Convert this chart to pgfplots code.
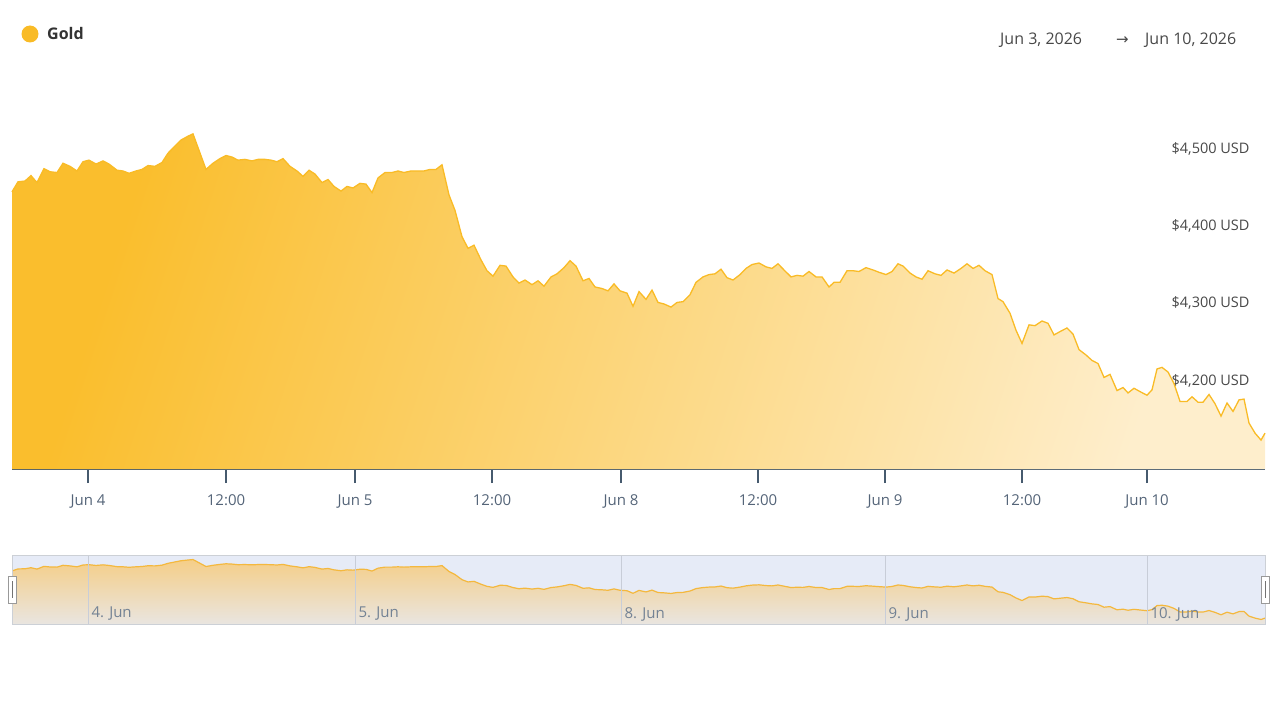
\documentclass[border=0pt]{standalone}
\usepackage{fontspec}
\setmainfont{Open Sans}
\newfontfamily\symfont{DejaVu Sans}
\usepackage{pgfplots}
\pgfplotsset{compat=1.18}
\usepackage{pgfplotstable}

\definecolor{goldline}{RGB}{249,187,38}
\definecolor{golddark}{RGB}{250,190,45}
\definecolor{goldlight}{RGB}{254,238,204}
\definecolor{axisslate}{RGB}{70,90,110}
\definecolor{ticktext}{RGB}{84,100,120}
\definecolor{labelgray}{RGB}{72,72,72}
\definecolor{navbg}{RGB}{230,235,247}
\definecolor{navborder}{RGB}{204,208,214}
\definecolor{navgrid}{RGB}{200,205,216}
\definecolor{navtext}{RGB}{115,130,148}
\definecolor{navtop}{RGB}{245,206,136}
\definecolor{navbot}{RGB}{233,229,224}
\definecolor{navline}{RGB}{244,184,62}

% x = horizontal position on the ordinal time axis (Jun 4 00:00 at 88), y = price in USD
\pgfplotstableread{
x y
12 4442
18 4455
25 4456
31 4463
37 4454
44 4472
50 4468
57 4467
63 4479
70 4475
77 4469
83 4481
89 4483
96 4478
103 4482
109 4478
117 4470
123 4469
129 4466
136 4469
142 4471
148 4476
155 4475
162 4480
168 4492
174 4500
181 4509
188 4514
193 4517
206 4471
213 4479
220 4485
226 4489
232 4487
238 4483
245 4484
252 4482
258 4484
265 4484
271 4483
277 4481
283 4485
290 4475
297 4469
303 4462
309 4470
315 4465
322 4454
328 4458
334 4449
341 4443
347 4449
353 4447
360 4453
366 4452
372 4441
378 4460
385 4467
392 4467
398 4469
404 4467
411 4469
418 4469
424 4469
430 4471
436 4471
442 4477
449 4438
455 4418
462 4384
468 4369
474 4373
481 4354
487 4340
493 4333
500 4347
506 4346
513 4332
519 4324
525 4328
532 4322
538 4327
544 4320
551 4332
557 4336
564 4344
570 4353
576 4346
583 4327
589 4330
595 4319
602 4317
608 4314
614 4323
620 4314
627 4311
633 4294
639 4313
646 4303
652 4315
658 4299
664 4297
671 4293
677 4299
683 4300
690 4309
696 4325
703 4332
709 4335
715 4336
721 4342
727 4331
733 4328
740 4335
746 4343
752 4348
759 4350
766 4345
772 4343
778 4349
784 4341
791 4332
797 4334
803 4333
809 4339
816 4332
822 4332
829 4319
834 4325
840 4325
847 4340
853 4340
859 4339
866 4344
873 4341
879 4338
886 4335
892 4339
898 4349
903 4346
910 4337
916 4332
922 4329
928 4340
935 4336
941 4334
947 4341
954 4337
961 4343
967 4349
973 4343
979 4347
985 4340
992 4335
998 4304
1003 4300
1010 4285
1016 4263
1022 4246
1029 4270
1035 4269
1042 4275
1048 4272
1054 4257
1061 4262
1067 4266
1073 4258
1079 4238
1086 4231
1092 4224
1098 4220
1104 4202
1110 4206
1117 4185
1123 4189
1128 4182
1134 4188
1141 4183
1147 4179
1152 4186
1157 4213
1162 4215
1168 4209
1174 4194
1180 4171
1187 4171
1192 4177
1198 4170
1203 4170
1209 4180
1215 4168
1221 4152
1227 4169
1233 4158
1239 4173
1244 4174
1249 4143
1255 4130
1261 4121
1265 4130
}\gold

\begin{document}
\begin{tikzpicture}[x=1bp,y=-1bp]
\path[use as bounding box] (0,0) rectangle (1280,720);

% main chart
\begin{axis}[
    at={(12bp,-469bp)}, anchor=south west,
    scale only axis, width=1253bp, height=409bp,
    xmin=12, xmax=1265, ymin=4083.6, ymax=4612.5,
    axis x line*=bottom, axis y line*=right,
    y axis line style={draw=none},
    x axis line style={draw=axisslate, line width=1.8bp},
    tick align=outside,
    major tick length=14bp,
    xtick={88,226,355,492,621,758,885,1022,1147},
    xticklabels={Jun 4,12:00,Jun 5,12:00,Jun 8,12:00,Jun 9,12:00,Jun 10},
    xtick style={draw=axisslate, line width=1.3bp},
    xticklabel style={yshift=-8bp, font=\fontsize{15bp}{18bp}\selectfont, text=ticktext},
    ytick={4200,4300,4400,4500},
    yticklabels={{\$4,200 USD},{\$4,300 USD},{\$4,400 USD},{\$4,500 USD}},
    ytick style={draw=none},
    yticklabel style={anchor=east, xshift=-26bp, yshift=-1.5bp, font=\fontsize{14.5bp}{17bp}\selectfont, text=labelgray},
    clip=false,
]
\addplot[draw=none, top color=golddark, bottom color=goldlight, shading angle=72] table {\gold} \closedcycle;
\addplot[goldline, line width=1.3bp] table {\gold};
\end{axis}

% navigator
\begin{axis}[
    at={(12bp,-624bp)}, anchor=south west,
    scale only axis, width=1253bp, height=69bp,
    xmin=12, xmax=1265, ymin=4091, ymax=4547,
    axis background/.style={fill=navbg},
    axis line style={draw=navborder, line width=0.8bp},
    axis on top,
    ytick=\empty,
    xtick={88,355,621,885,1147},
    xticklabels={4. Jun,5. Jun,8. Jun,9. Jun,10. Jun},
    xmajorgrids, grid style={draw=navgrid, line width=0.8bp},
    major tick length=0pt,
    xticklabel style={anchor=west, yshift=10bp, font=\fontsize{15bp}{18bp}\selectfont, text=navtext},
]
\addplot[draw=none, top color=navtop, bottom color=navbot] table {\gold} \closedcycle;
\addplot[navline, line width=1.2bp] table {\gold};
\end{axis}

% navigator handles
\filldraw[fill=white, draw=gray!80, line width=0.9bp] (8.5,576) rectangle (16.5,603);
\draw[gray!90!black, line width=0.9bp] (12,581) -- (12,598);
\filldraw[fill=white, draw=gray!80, line width=0.9bp] (1261,576) rectangle (1269,603);
\draw[gray!90!black, line width=0.9bp] (1265,581) -- (1265,598);

% legend and range
\fill[goldline] (30,34) circle (8.5);
\node[anchor=base west, inner sep=0pt, text=black!80, font=\fontsize{16bp}{19bp}\selectfont\bfseries] at (47,39.7) {Gold};
\node[anchor=base west, inner sep=0pt, text=labelgray, font=\fontsize{16bp}{19bp}\selectfont] at (1000,44.7) {Jun 3, 2026};
\node[anchor=base west, inner sep=0pt, text=labelgray, font=\fontsize{15bp}{18bp}\selectfont\symfont] at (1116,44.7) {→};
\node[anchor=base west, inner sep=0pt, text=labelgray, font=\fontsize{16bp}{19bp}\selectfont] at (1145,44.7) {Jun 10, 2026};
\end{tikzpicture}
\end{document}
